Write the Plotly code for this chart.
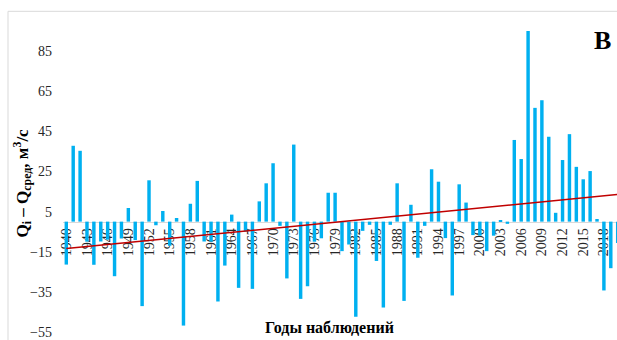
import plotly.graph_objects as go

years = list(range(1940, 2021))
anomalies = [
    -21.4, 37.8, 35.3, -10.0, -21.5, -9.9, -9.0, -27.2, -8.4, 6.8,
    -9.2, -42.1, 20.6, -1.8, 5.3, -12.0, 1.8, -51.8, 8.9, 20.3,
    -9.9, -10.0, -39.8, -21.9, 3.5, -33.0, -5.0, -33.5, 10.1, 19.1,
    29.1, -2.1, -28.3, 38.4, -38.5, -32.2, -10.0, -8.3, 14.4, 14.4,
    -14.7, -11.4, -47.4, -4.6, -1.6, -19.6, -42.8, -1.6, 19.1, -39.5,
    8.4, -18.0, -2.1, 26.1, 19.9, -8.2, -36.8, 18.6, 9.5, -6.7,
    -7.0, -14.7, -7.0, 0.6, -1.1, 40.7, 31.2, 97.5, 56.7, 60.5,
    42.3, 4.4, 30.7, 43.6, 27.3, 21.1, 25.2, 1.3, -34.3, -23.2,
    -10.6,
]
trend_years = [1940, 2020]
trend_values = [-13.4, 13.5]
tick_years = list(range(1940, 2020, 3))
y_ticks = list(range(-55, 86, 20))

W, H = 617, 340
ML, MT = 63, 31
PW, PH = W - ML, 306
MR = 0
MB = H - MT - PH
Y0, Y1 = -55, 95
X0, X1 = 1939.52, 2019.9


def px_x(p):
    return (p - ML) / PW


def px_y(p):
    return (H - MB - p) / PH


zero_pos = (0 - Y0) / (Y1 - Y0)

serif = "Liberation Serif, Times New Roman, serif"

fig = go.Figure()
fig.add_trace(go.Bar(x=years, y=anomalies, width=0.5,
                     marker=dict(color="#00B0F0", line=dict(width=0)),
                     showlegend=False))
fig.add_trace(go.Scatter(x=trend_years, y=trend_values, mode="lines",
                         line=dict(color="#C00000", width=1.5),
                         showlegend=False))

fig.update_layout(
    width=W, height=H,
    margin=dict(l=ML, r=MR, t=MT, b=MB, pad=0),
    paper_bgcolor="white", plot_bgcolor="white",
    font=dict(family=serif, color="#262626", size=14),
    bargap=0.5,
    hovermode=False,
    xaxis=dict(range=[X0, X1], tickmode="array", tickvals=tick_years,
               ticktext=[str(t) for t in tick_years], tickangle=-90,
               showgrid=False, zeroline=False, showline=True,
               linecolor="#D9D9D9", linewidth=1, ticks="",
               anchor="free", position=zero_pos, layer="below traces",
               tickfont=dict(family=serif, size=14, color="#262626")),
    yaxis=dict(range=[Y0, Y1], tickmode="array", tickvals=y_ticks,
               showgrid=False, zeroline=False, showline=False, ticks="",
               ticklabelstandoff=10, ticklabeloverflow="allow",
               tickfont=dict(family=serif, size=14, color="#262626")),
    shapes=[dict(type="rect", xref="paper", yref="paper",
                 x0=px_x(8), x1=1.2, y0=-0.3, y1=px_y(11),
                 line=dict(color="#D9D9D9", width=1), layer="below")],
    annotations=[
        dict(text="<b>Q<sub>i</sub> – Q<sub>сред</sub>, м<sup>3</sup>/с</b>",
             xref="paper", yref="paper", x=px_x(22), y=px_y(186),
             textangle=-90, showarrow=False, xanchor="center", yanchor="middle",
             font=dict(family=serif, size=17, color="black")),
        dict(text="<b>Годы наблюдений</b>", xref="paper", yref="paper",
             x=px_x(329), y=px_y(332), showarrow=False,
             xanchor="center", yanchor="middle",
             font=dict(family=serif, size=16, color="black")),
        dict(text="<b>В</b>", xref="paper", yref="paper",
             x=px_x(602), y=px_y(41), showarrow=False,
             xanchor="center", yanchor="middle",
             font=dict(family=serif, size=26, color="black")),
    ],
)

fig.write_html(
    "out.html",
    config={"displayModeBar": False},
    post_script="document.body.style.margin='0';document.body.style.overflow='hidden';",
)
